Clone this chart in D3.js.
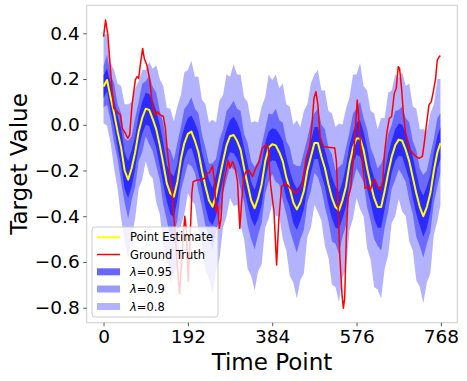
<!DOCTYPE html>
<html>
<head>
<meta charset="utf-8">
<script src="https://cdn.jsdelivr.net/npm/d3@7"></script>
<style>
  body { margin: 0; background: #fff; }
  svg { display: block; font-family: "DejaVu Sans", sans-serif; }
</style>
</head>
<body>
<div id="chart"></div>
<script>
// time axis samples (every 8 steps, last one 767)
const timePoints = [...d3.range(0, 768, 8), 767];

const pointEstimate = [
  0.167, 0.196, 0.12, 0.05, -0.03, -0.10, -0.20, -0.24, -0.19, -0.12, -0.03, 0.03,
  0.07, 0.065, 0.025, -0.02, -0.09, -0.17, -0.256, -0.30, -0.315, -0.25, -0.15, -0.08,
  -0.04, -0.03, -0.07, -0.12, -0.20, -0.27, -0.33, -0.358, -0.31, -0.234, -0.16, -0.09,
  -0.05, -0.045, -0.07, -0.11, -0.19, -0.26, -0.33, -0.365, -0.32, -0.26, -0.16, -0.10,
  -0.085, -0.09, -0.12, -0.16, -0.23, -0.28, -0.34, -0.37, -0.34, -0.29, -0.20, -0.14,
  -0.08, -0.08, -0.14, -0.19, -0.26, -0.32, -0.36, -0.375, -0.33, -0.27, -0.17, -0.10,
  -0.06, -0.06, -0.11, -0.19, -0.26, -0.32, -0.36, -0.36, -0.29, -0.21, -0.14, -0.09,
  -0.065, -0.07, -0.11, -0.16, -0.23, -0.30, -0.36, -0.40, -0.36, -0.30, -0.20, -0.12,
  -0.08
];

// half widths of the intervals around the point estimate
const width95 = [
  0.05, 0.05, 0.06, 0.06, 0.07, 0.08, 0.08, 0.08, 0.08, 0.07, 0.07, 0.07,
  0.07, 0.07, 0.08, 0.08, 0.09, 0.09, 0.08, 0.09, 0.09, 0.08, 0.08, 0.07,
  0.07, 0.07, 0.08, 0.09, 0.08, 0.09, 0.09, 0.08, 0.09, 0.08, 0.08, 0.07,
  0.07, 0.08, 0.08, 0.08, 0.09, 0.09, 0.08, 0.08, 0.09, 0.09, 0.08, 0.07,
  0.07, 0.07, 0.08, 0.09, 0.09, 0.08, 0.09, 0.09, 0.08, 0.08, 0.08, 0.07,
  0.07, 0.07, 0.08, 0.08, 0.09, 0.09, 0.09, 0.08, 0.08, 0.09, 0.08, 0.07,
  0.07, 0.08, 0.08, 0.09, 0.08, 0.09, 0.09, 0.09, 0.08, 0.08, 0.07, 0.07,
  0.07, 0.07, 0.08, 0.08, 0.09, 0.09, 0.08, 0.09, 0.09, 0.08, 0.08, 0.07,
  0.07
];
const width90 = [
  0.09, 0.11, 0.10, 0.13, 0.12, 0.15, 0.14, 0.17, 0.14, 0.15, 0.13, 0.15,
  0.12, 0.15, 0.14, 0.16, 0.15, 0.18, 0.16, 0.19, 0.16, 0.17, 0.14, 0.15,
  0.13, 0.15, 0.14, 0.17, 0.16, 0.17, 0.16, 0.19, 0.16, 0.17, 0.14, 0.15,
  0.13, 0.15, 0.14, 0.17, 0.15, 0.18, 0.17, 0.18, 0.16, 0.17, 0.14, 0.15,
  0.13, 0.16, 0.14, 0.17, 0.16, 0.18, 0.17, 0.19, 0.16, 0.17, 0.14, 0.15,
  0.13, 0.15, 0.14, 0.17, 0.16, 0.19, 0.16, 0.19, 0.16, 0.17, 0.14, 0.15,
  0.13, 0.16, 0.14, 0.17, 0.16, 0.18, 0.17, 0.19, 0.16, 0.17, 0.14, 0.15,
  0.13, 0.15, 0.14, 0.17, 0.16, 0.19, 0.17, 0.18, 0.16, 0.17, 0.14, 0.15,
  0.13
];
const width80Up = [
  0.23, 0.20, 0.15, 0.19, 0.21, 0.27, 0.29, 0.33, 0.29, 0.28, 0.22, 0.21,
  0.17, 0.21, 0.22, 0.28, 0.29, 0.34, 0.33, 0.37, 0.33, 0.33, 0.28, 0.31,
  0.28, 0.31, 0.28, 0.33, 0.31, 0.36, 0.34, 0.38, 0.32, 0.34, 0.29, 0.31,
  0.26, 0.31, 0.29, 0.33, 0.31, 0.36, 0.34, 0.38, 0.33, 0.34, 0.28, 0.32,
  0.28, 0.31, 0.28, 0.34, 0.32, 0.36, 0.34, 0.39, 0.33, 0.35, 0.29, 0.32,
  0.30, 0.32, 0.29, 0.34, 0.32, 0.37, 0.35, 0.38, 0.33, 0.34, 0.29, 0.32,
  0.28, 0.33, 0.28, 0.34, 0.32, 0.37, 0.34, 0.39, 0.32, 0.35, 0.29, 0.31,
  0.27, 0.30, 0.28, 0.34, 0.31, 0.37, 0.34, 0.38, 0.33, 0.35, 0.29, 0.32,
  0.28
];
const width80Down = [
  0.16, 0.20, 0.20, 0.24, 0.25, 0.31, 0.31, 0.35, 0.30, 0.29, 0.25, 0.27,
  0.23, 0.28, 0.26, 0.32, 0.30, 0.36, 0.34, 0.39, 0.34, 0.36, 0.29, 0.31,
  0.26, 0.30, 0.28, 0.34, 0.32, 0.37, 0.34, 0.38, 0.33, 0.35, 0.29, 0.31,
  0.27, 0.31, 0.28, 0.33, 0.31, 0.37, 0.33, 0.36, 0.32, 0.35, 0.29, 0.31,
  0.26, 0.31, 0.28, 0.34, 0.32, 0.38, 0.35, 0.39, 0.34, 0.36, 0.29, 0.31,
  0.27, 0.30, 0.28, 0.34, 0.32, 0.38, 0.35, 0.40, 0.34, 0.36, 0.29, 0.31,
  0.26, 0.31, 0.29, 0.35, 0.33, 0.39, 0.36, 0.40, 0.34, 0.36, 0.29, 0.31,
  0.26, 0.31, 0.29, 0.35, 0.32, 0.38, 0.35, 0.38, 0.33, 0.35, 0.28, 0.30,
  0.27
];

const truthTime = [
  0, 4.6, 9.9, 14.4, 19.7, 23.4, 31, 38.5, 42.2, 49.8, 55, 59.5, 64.8, 72.4, 76, 79.9,
  83.6, 89, 92.7, 98.7, 104.7, 112.2, 117.5, 122.8, 128.8, 136.3, 140.8, 145.4, 151.4,
  155.9, 158.9, 164, 168, 173, 177, 181, 185, 188, 192.8, 197, 201, 204, 213, 223, 230,
  236, 241, 248, 252.6, 256, 259.8, 263.6, 267.4, 271.1, 274.9, 278.7, 284, 287.7, 293.7,
  299.8, 305, 310.3, 314, 318.6, 323.8, 331.3, 338.9, 346.4, 353.9, 361.5, 369, 375,
  380.4, 388, 394, 399.2, 405.3, 414.3, 425.6, 438.4, 452, 461, 468.5, 474.5, 479, 483.5,
  488, 493.3, 500.8, 512, 526.4, 530.2, 534, 537.7, 543, 546, 549, 552.6, 556.4, 562.4,
  567.7, 573, 577.5, 580.5, 585, 590.3, 595.6, 601.6, 607.6, 612.9, 618.2, 624.2, 630.2,
  635.5, 639.3, 645.3, 650.6, 655.8, 661.9, 666.4, 670.9, 673.9, 678.4, 682.9, 688.2,
  695.7, 703.3, 710.8, 718.3, 725.8, 729.6, 735.6, 740.9, 746.2, 750.7, 756, 759.8,
  764.3, 767
];
const groundTruth = [
  0.385, 0.458, 0.393, 0.276, 0.145, 0.072, 0.057, 0.043, -0.015, -0.037, -0.059, -0.044,
  0.087, 0.196, 0.21, 0.203, 0.261, 0.334, 0.29, 0.261, 0.203, 0.072, 0.043, 0.057, 0.043,
  0.036, -0.015, -0.118, -0.219, -0.292, -0.37, -0.5, -0.62, -0.74, -0.62, -0.5, -0.4,
  -0.45, -0.686, -0.5, -0.3, -0.249, -0.241, -0.241, -0.234, -0.212, -0.21, -0.18, -0.249,
  -0.38, -0.35, -0.453, -0.41, -0.292, -0.234, -0.205, -0.154, -0.19, -0.161, -0.19,
  -0.249, -0.453, -0.35, -0.234, -0.205, -0.198, -0.227, -0.19, -0.161, -0.103, -0.088,
  -0.1, -0.263, -0.38, -0.613, -0.41, -0.27, -0.256, -0.278, -0.3, -0.263, -0.147, -0.103,
  0.0, 0.116, 0.145, 0.087, -0.059, -0.095, -0.098, -0.102, -0.161, -0.35, -0.569, -0.744,
  -0.802, -0.759, -0.496, -0.321, -0.278, -0.176, -0.03, 0.108, 0.043, -0.088, -0.19,
  -0.278, -0.27, -0.285, -0.249, -0.24, -0.27, -0.285, -0.249, -0.132, -0.03, 0.028,
  0.036, 0.138, 0.16, 0.254, 0.247, 0.16, 0.043, -0.045, -0.103, -0.124, -0.138, -0.147,
  -0.138, -0.088, 0.007, 0.087, 0.101, 0.145, 0.203, 0.283, 0.298, 0.302
];

const xTicks = [0, 192, 384, 576, 768];
const yTicks = [-0.8, -0.6, -0.4, -0.2, 0.0, 0.2, 0.4];
const lambdas = ["0.95", "0.9", "0.8"];

const width = 467, height = 381;
const frame = { left: 86.7, right: 457.3, top: 5.3, bottom: 322.7 };

const svg = d3.select("#chart").append("svg")
  .attr("width", width)
  .attr("height", height);

const x = d3.scaleLinear().domain([-38.35, 805.35]).range([frame.left, frame.right]);
const y = d3.scaleLinear().domain([-0.8, 0.4]).range([307.7, 33.3]);

const rows = timePoints.map((t, i) => ({
  t: t,
  v: pointEstimate[i],
  w95: width95[i],
  w90: width90[i],
  w80u: width80Up[i],
  w80d: width80Down[i]
}));

const bands = [
  { lo: d => d.v - d.w80d, hi: d => d.v + d.w80u, opacity: 0.3 },
  { lo: d => d.v - d.w90, hi: d => d.v + d.w90, opacity: 0.4 },
  { lo: d => d.v - d.w95, hi: d => d.v + d.w95, opacity: 0.6 }
];

bands.forEach(b => {
  const area = d3.area()
    .x(d => x(d.t))
    .y0(d => y(b.lo(d)))
    .y1(d => y(b.hi(d)));
  svg.append("path")
    .datum(rows)
    .attr("d", area)
    .attr("fill", "#0000ff")
    .attr("fill-opacity", b.opacity);
});

const line = d3.line().x(d => x(d[0])).y(d => y(d[1]));

svg.append("path")
  .datum(rows.map(d => [d.t, d.v]))
  .attr("d", line)
  .attr("fill", "none")
  .attr("stroke", "#ffff00")
  .attr("stroke-width", 2)
  .attr("stroke-linejoin", "round");

svg.append("path")
  .datum(truthTime.map((t, i) => [t, groundTruth[i]]))
  .attr("d", line)
  .attr("fill", "none")
  .attr("stroke", "#ff0000")
  .attr("stroke-width", 1.5)
  .attr("stroke-linejoin", "round");

// frame
svg.append("rect")
  .attr("x", frame.left)
  .attr("y", frame.top)
  .attr("width", frame.right - frame.left)
  .attr("height", frame.bottom - frame.top)
  .attr("fill", "none")
  .attr("stroke", "#cccccc")
  .attr("stroke-width", 1);

// axes
const xAxis = svg.append("g")
  .attr("transform", `translate(0,${frame.bottom})`)
  .call(d3.axisBottom(x).tickValues(xTicks).tickSize(3.5).tickPadding(3.5).tickFormat(d3.format("d")));
const yAxis = svg.append("g")
  .attr("transform", `translate(${frame.left},0)`)
  .call(d3.axisLeft(y).tickValues(yTicks).tickSize(3.5).tickPadding(3.5).tickFormat(d3.format(".1f")));

[xAxis, yAxis].forEach(g => {
  g.select(".domain").remove();
  g.selectAll(".tick line").attr("stroke", "#555");
  g.selectAll(".tick text")
    .attr("fill", "#000")
    .style("font-size", "18.5px")
    .style("font-family", "DejaVu Sans");
});

svg.append("text")
  .attr("x", (frame.left + frame.right) / 2)
  .attr("y", 370)
  .attr("text-anchor", "middle")
  .style("font-size", "23px")
  .text("Time Point");

svg.append("text")
  .attr("transform", `translate(27,${(frame.top + frame.bottom) / 2}) rotate(-90)`)
  .attr("text-anchor", "middle")
  .style("font-size", "23px")
  .text("Target Value");

// legend
const legend = svg.append("g");
legend.append("rect")
  .attr("x", 92).attr("y", 227)
  .attr("width", 126).attr("height", 90)
  .attr("rx", 3)
  .attr("fill", "#fff").attr("fill-opacity", 0.8)
  .attr("stroke", "#cccccc");

const rowY = [237.3, 254.5, 271.8, 289, 306.5];

legend.append("line").attr("x1", 97).attr("x2", 120).attr("y1", rowY[0]).attr("y2", rowY[0])
  .attr("stroke", "#ffff00").attr("stroke-width", 2);
legend.append("line").attr("x1", 97).attr("x2", 120).attr("y1", rowY[1]).attr("y2", rowY[1])
  .attr("stroke", "#ff0000").attr("stroke-width", 1.5);

["Point Estimate", "Ground Truth"].forEach((s, i) => {
  legend.append("text")
    .attr("x", 130).attr("y", rowY[i]).attr("dy", "0.35em")
    .style("font-size", "11.5px")
    .text(s);
});

lambdas.forEach((s, i) => {
  const yy = rowY[i + 2];
  legend.append("rect")
    .attr("x", 97).attr("y", yy - 3.5)
    .attr("width", 23).attr("height", 7)
    .attr("fill", "#0000ff")
    .attr("fill-opacity", bands[2 - i].opacity);
  const t = legend.append("text")
    .attr("x", 130).attr("y", yy).attr("dy", "0.35em")
    .style("font-size", "11.5px");
  t.append("tspan").style("font-style", "italic").text("λ");
  t.append("tspan").text("=" + s);
});
</script>
</body>
</html>
